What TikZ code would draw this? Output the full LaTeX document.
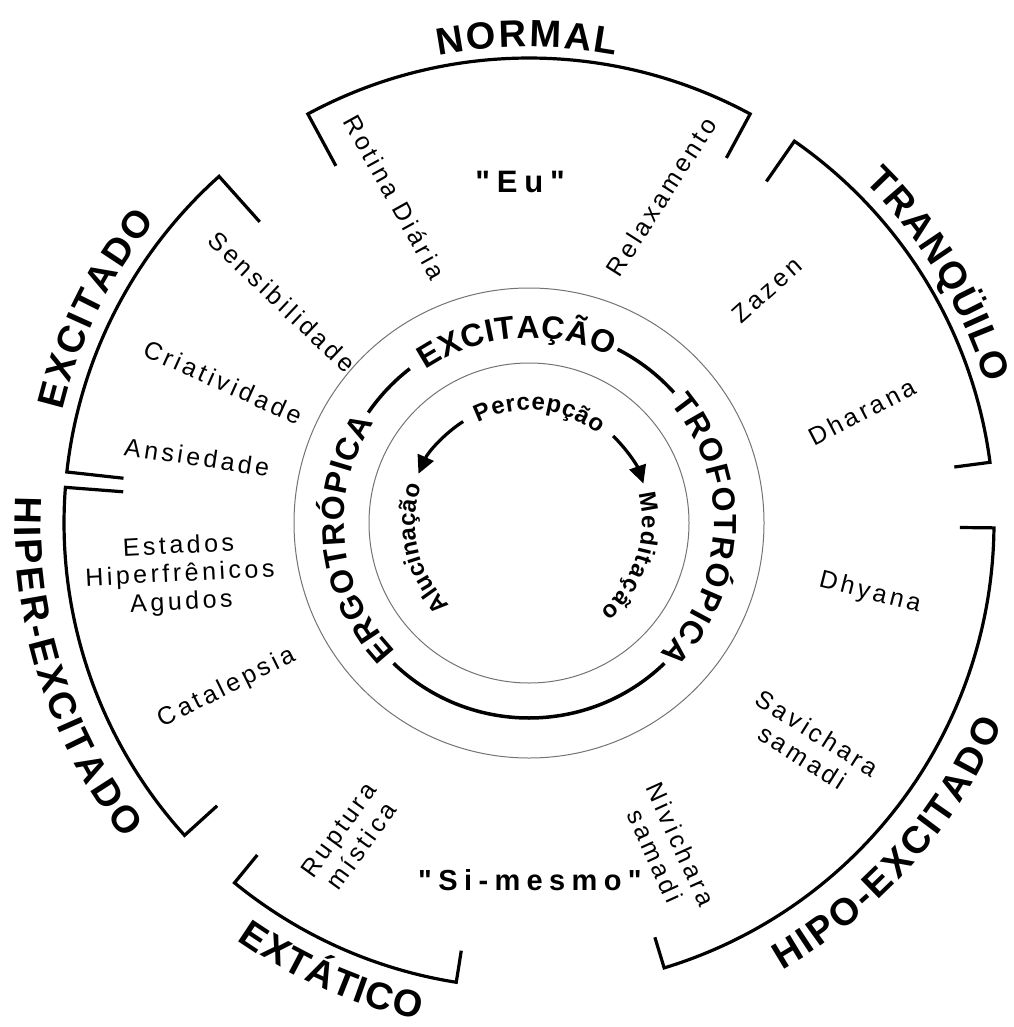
\documentclass[tikz,border=0pt]{standalone}
\usepackage{fontspec}
\setmainfont{Liberation Sans}
\newfontfamily\spacedfont[LetterSpace=14]{Liberation Sans}
\newfontfamily\widefont[LetterSpace=22]{Liberation Sans}
\usetikzlibrary{arrows.meta,decorations.text}

\newcommand\outerfont{\fontsize{38}{40}\selectfont\bfseries}
\newcommand\ringfont{\fontsize{32}{34}\selectfont\bfseries}
\newcommand\innerfont{\fontsize{24}{26}\selectfont\bfseries}

\tikzset{
  arctext/.style 2 args={decorate,decoration={text effects along path,
      text={#2},
      text effects/.cd,text along path,fit text to path,
      every character/.append style={font=#1}}},
}

\begin{document}
\begin{tikzpicture}[x=1pt,y=-1pt,
  bracket/.style={line width=3.2pt,line join=miter},
  ringarc/.style={line width=3.5pt},
  thin/.style={line width=1pt,black!55},
  flow/.style={line width=3.2pt,-{Triangle[length=18pt,width=17pt]}},
  state/.style={font=\spacedfont\fontsize{25}{28}\selectfont,align=center,inner sep=0pt},
  self/.style={font=\widefont\fontsize{31}{33}\selectfont\bfseries,inner sep=0pt}]

  \useasboundingbox (0,0) rectangle (1013,1027);

  \begin{scope}[shift={(529,523)}]
    % circles of the centre
    \draw[thin] (0,0) circle[radius=160pt];
    \draw[thin] (0,0) circle[radius=235pt];
    \draw[ringarc] (145.5:195pt) arc[start angle=145.5,end angle=127.7,radius=195pt];
    \draw[ringarc] (63:195pt) arc[start angle=63,end angle=42,radius=195pt];
    \draw[ringarc] (226:195pt) arc[start angle=226,end angle=314,radius=195pt];

    % outer brackets
    \foreach \a/\b/\ra/\rb in {61.6/118.4/415/406, 7.5/55.2/429/416,
        131.8/173.7/404/408, 175.6/222.2/407/421, 230.7/261/429/433,
        286.9/359.4/433/431}
      \draw[bracket] (\a:\ra pt) -- (\a:465pt) arc[start angle=\a,end angle=\b,radius=465pt] -- (\b:\rb pt);

    % state names
    \path[arctext={\outerfont}{NORMAL}] (101:476pt) arc[start angle=101,end angle=79.5,radius=476pt];
    \path[arctext={\outerfont}{EXCITADO}] (166.5:480pt) arc[start angle=166.5,end angle=141,radius=480pt];
    \path[arctext={\outerfont}{TRANQÜILO}] (45.5:478pt) arc[start angle=45.5,end angle=17,radius=478pt];
    \path[arctext={\outerfont}{HIPER-EXCITADO}] (177:514pt) arc[start angle=177,end angle=218,radius=514pt];
    \path[arctext={\outerfont}{HIPO-EXCITADO}] (299.5:514pt) arc[start angle=299.5,end angle=337,radius=514pt];
    \path[arctext={\outerfont}{EXTÁTICO}] (235:509pt) arc[start angle=235,end angle=257.5,radius=509pt];

    % ring
    \path[arctext={\ringfont}{EXCITAÇÃO}] (124:185pt) arc[start angle=124,end angle=64,radius=185pt];
    \path[arctext={\ringfont}{ERGOTRÓPICA}] (224:185pt) arc[start angle=224,end angle=147,radius=185pt];
    \path[arctext={\ringfont}{TROFOTRÓPICA}] (40:185pt) arc[start angle=40,end angle=-45,radius=185pt];

    % inside
    \path[arctext={\innerfont}{Percepção}] (117:113pt) arc[start angle=117,end angle=52,radius=113pt];
    \path[arctext={\innerfont}{Alucinação}] (226:114pt) arc[start angle=226,end angle=161,radius=114pt];
    \path[arctext={\innerfont}{Meditação}] (15:113pt) arc[start angle=15,end angle=-51,radius=113pt];
    \coordinate (percleft) at (123:121pt);
    \coordinate (percright) at (46:121pt);
    \draw[flow] (percleft) arc[start angle=123,end angle=156,radius=121pt];
    \draw[flow] (percright) arc[start angle=46,end angle=19,radius=121pt];
  \end{scope}

  \node[self] (eu) at (520,182) {"Eu"};
  \node[self,font=\widefont\fontsize{29}{31}\selectfont\bfseries] (simesmo) at (530,880) {"Si-mesmo"};

  \node[state,rotate=-61] (rotina) at (395,197) {Rotina Diária};
  \node[state,rotate=57.5] (relax) at (661,197) {Relaxamento};
  \node[state,rotate=-43.4] (sensib) at (282,302) {Sensibilidade};
  \node[state,rotate=-24.2] (criat) at (223,382) {Criatividade};
  \node[state,rotate=-8.5] (ansied) at (197,457) {Ansiedade};
  \node[state,rotate=3] (hiperfr) at (180,575) {Estados\\Hiperfrênicos\\Agudos};
  \node[state,rotate=26.4] (catal) at (227,688) {Catalepsia};
  \node[state,rotate=54] (ruptura) at (350,838) {Ruptura\\mística};
  \node[state,rotate=-65.6] (nivich) at (668,850) {Nivichara\\samadi};
  \node[state,rotate=-32.3] (savich) at (810,745) {Savichara\\samadi};
  \node[state,rotate=-14.3] (dhyana) at (870,593) {Dhyana};
  \node[state,rotate=27.4] (dharana) at (862,412) {Dharana};
  \node[state,rotate=41.8] (zazen) at (767,290) {Zazen};
\end{tikzpicture}
\end{document}
